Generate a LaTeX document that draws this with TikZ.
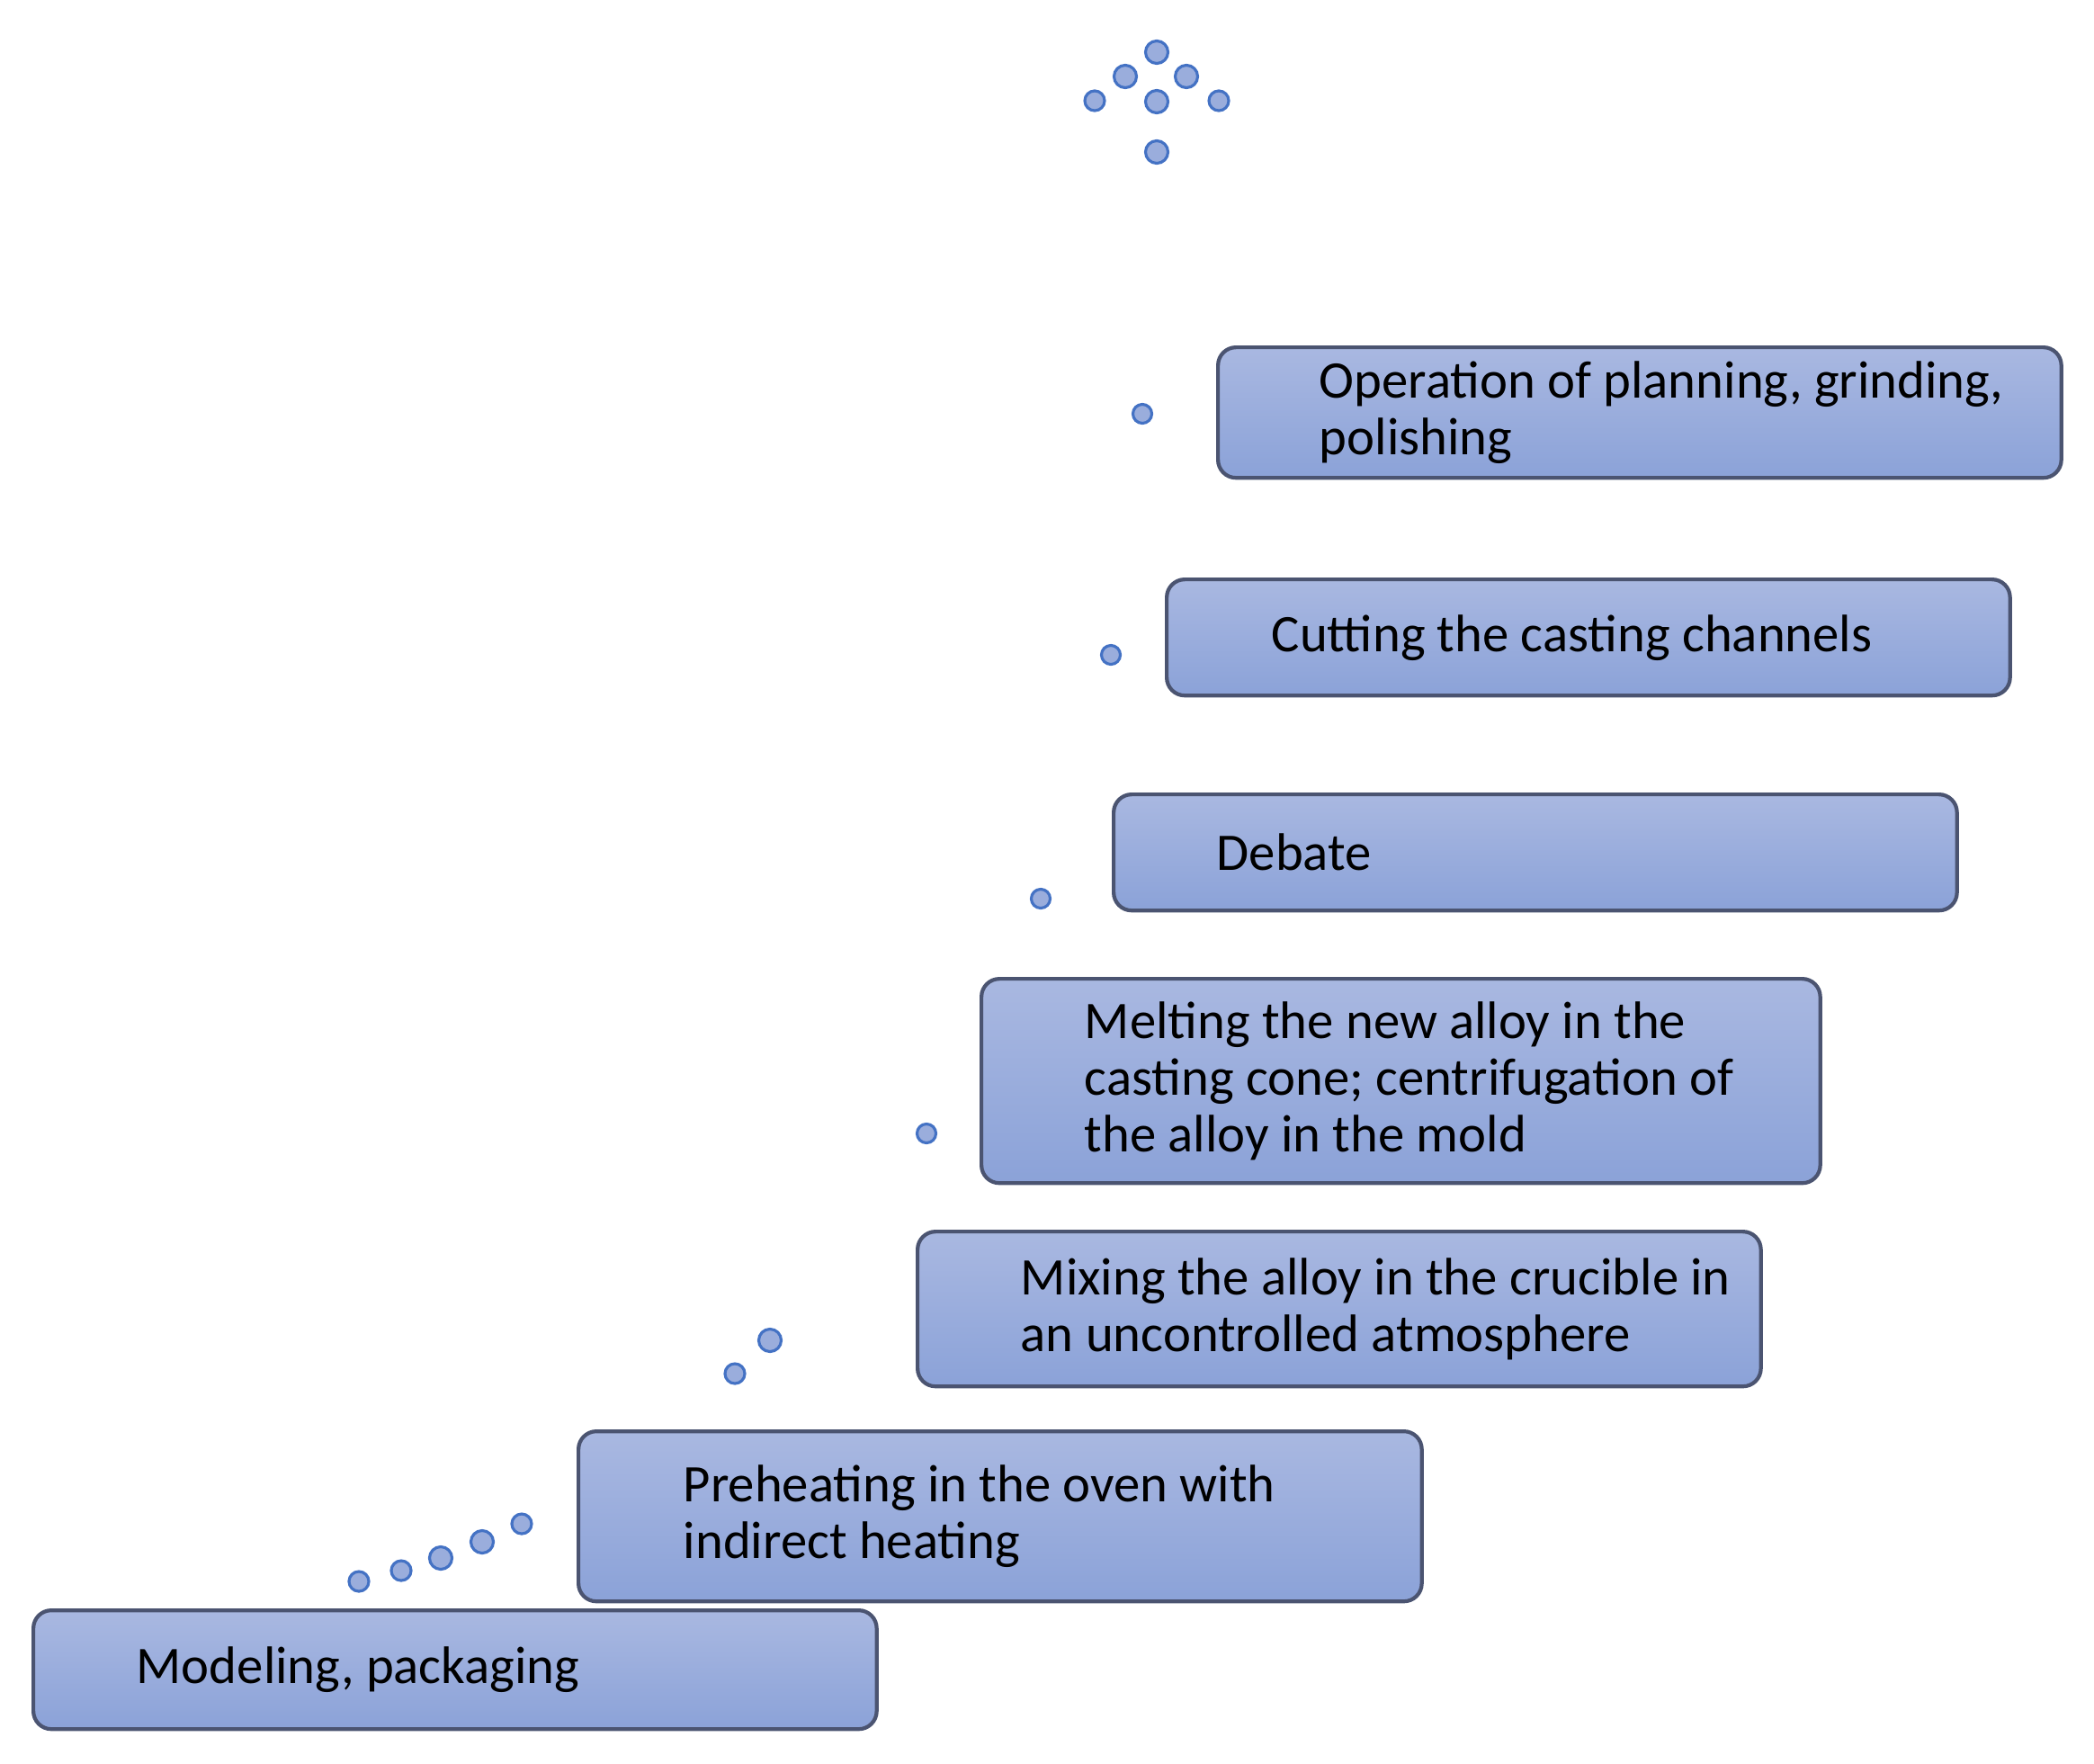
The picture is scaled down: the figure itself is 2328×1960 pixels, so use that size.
\documentclass[tikz,border=0pt]{standalone}
\usepackage{fontspec}
\setmainfont{Carlito}
\usetikzlibrary{positioning}

\definecolor{boxtop}{HTML}{A9B8E1}
\definecolor{boxbot}{HTML}{8BA2D8}
\definecolor{boxline}{HTML}{4B5471}
\definecolor{dotline}{HTML}{4472C4}
\definecolor{dotfill}{HTML}{9AADDC}

\tikzset{
  stepbox/.style={rectangle, rounded corners=0.2cm, draw=boxline, line width=1.2pt,
    top color=boxtop, bottom color=boxbot, minimum width=9.37cm, inner sep=0pt},
  steptext/.style={inner sep=0pt, align=left, font=\fontsize{16.7}{17.9}\selectfont},
  bead/.style={circle, draw=dotline, line width=0.9pt, fill=dotfill, inner sep=0pt, minimum size=#1},
  bead/.default=0.22cm
}

\begin{document}
\begin{tikzpicture}[x=0.01cm,y=-0.01cm]
  \useasboundingbox (0,0) rectangle (2328,1960);
  % steps, bottom to top
  \node [stepbox, minimum height=1.32cm, anchor=north west] (modelbox) at (35,1788) {};
  \node [steptext, right=1.16cm of modelbox.west] (model) {Modeling, packaging};
  \node [stepbox, minimum height=1.89cm, anchor=north west] (heatbox) at (641,1589) {};
  \node [steptext, right=1.18cm of heatbox.west] (heat) {Preheating in the oven with\\indirect heating};
  \node [stepbox, minimum height=1.72cm, anchor=north west] (mixbox) at (1018,1367) {};
  \node [steptext, right=1.16cm of mixbox.west] (mix) {Mixing the alloy in the crucible in\\an uncontrolled atmosphere};
  \node [stepbox, minimum height=2.27cm, minimum width=9.32cm, anchor=north west] (meltbox) at (1089,1086) {};
  \node [steptext, right=1.16cm of meltbox.west] (melt) {Melting the new alloy in the\\casting cone; centrifugation of\\the alloy in the mold};
  \node [stepbox, minimum height=1.29cm, anchor=north west] (debatebox) at (1236,881) {};
  \node [steptext, right=1.16cm of debatebox.west] (debate) {Debate};
  \node [stepbox, minimum height=1.29cm, anchor=north west] (cutbox) at (1295,642) {};
  \node [steptext, right=1.18cm of cutbox.west] (cut) {Cutting the casting channels};
  \node [stepbox, minimum height=1.45cm, anchor=north west] (polishbox) at (1352,384) {};
  \node [steptext, right=1.14cm of polishbox.west] (polish) {Operation of planning, grinding,\\polishing};
  % dots
  \node [bead] (b1) at (399,1758) {};
  \node [bead] (b2) at (446,1746) {};
  \node [bead=0.25cm] (b3) at (490,1732) {};
  \node [bead=0.25cm] (b4) at (536,1714) {};
  \node [bead] (b5) at (580,1694) {};
  \node [bead] (p1) at (817,1527) {};
  \node [bead=0.25cm] (p2) at (856,1490) {};
  \node [bead=0.21cm] (s1) at (1030,1260) {};
  \node [bead=0.21cm] (s2) at (1157,999) {};
  \node [bead=0.21cm] (s3) at (1235,728) {};
  \node [bead=0.21cm] (s4) at (1270,460) {};
  % cluster on top
  \node [bead=0.25cm] (t1) at (1286,58) {};
  \node [bead=0.25cm] (t2) at (1251,85) {};
  \node [bead=0.25cm] (t3) at (1319,85) {};
  \node [bead] (t4) at (1217,112) {};
  \node [bead=0.25cm] (t5) at (1286,113) {};
  \node [bead] (t6) at (1355,112) {};
  \node [bead=0.25cm] (t7) at (1286,169) {};
\end{tikzpicture}
\end{document}
